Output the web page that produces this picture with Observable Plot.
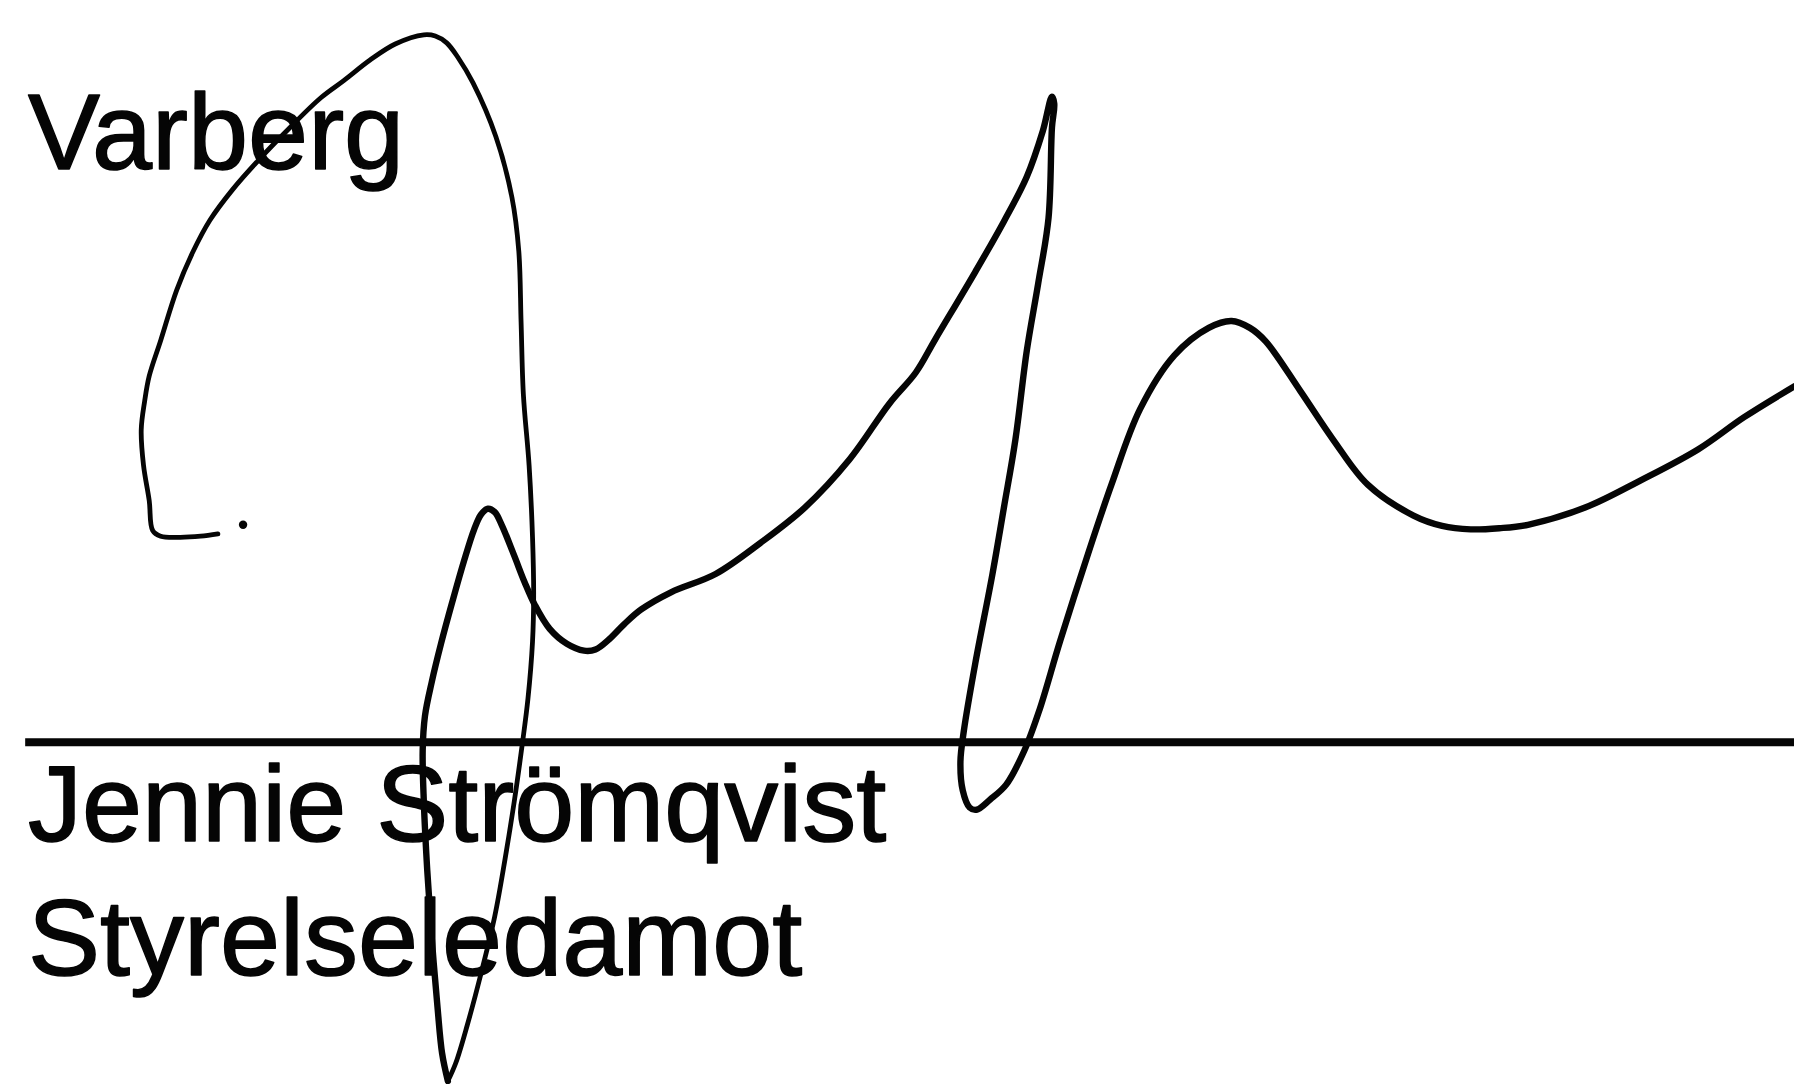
<!DOCTYPE html>
<html><head><meta charset="utf-8">
<script src="https://cdn.jsdelivr.net/npm/d3@7"></script>
<script src="https://cdn.jsdelivr.net/npm/@observablehq/plot@0.6"></script>
<style>html,body{margin:0;padding:0;background:#fff;overflow:hidden}</style>
</head><body><div id="chart"></div>
<script>
// Reference frame (units of the reference picture)
const frameW = 1568, frameH = 947;

// Signature stroke, first part (hook, loop, down to the lowest tip)
const loopX = [190,175,157,140,133,130,125,123,126,130,140,154,168,183,203,225,252,280,300,323,345,370,380,390,400,413,433,447,453,455,457,462,465,
  466,465,461,456,449,441,432,420,408,398,391];
const loopY = [466,468,469,468,463,437,406,375,350,328,297,253,220,192,165,140,112,85,70,52,38,30,31,37,50,72,119,172,219,281,344,406,469,
  520,560,610,650,700,750,800,850,895,928,944];

// Signature stroke, second part (from the lowest tip to the right edge)
const waveX = [391,386,382,377,373,370,369,371,377,385,395,405,414,420,426,432,438,449,458,467,480,495,510,520,532,545,560,586,625,664,703,742,777,800,817,852,877,897,911,919,
  921,919,916,907,897,887,877,867,852,842,839,841,847,853,865,879,895,908,926,951,971,996,1026,1056,1076,1092,1106,1136,1165,1195,1235,1260,1285,1310,1335,1385,1434,1484,1524,1568];
const waveY = [944,920,880,820,760,700,655,625,595,562,525,490,462,449,444,447,458,485,508,528,549,562,568,567,558,545,532,517,501,474,443,401,352,325,296,237,193,154,114,84,
  90,111,190,247,306,384,443,501,579,638,665,690,705,707,698,685,655,620,560,482,423,357,310,286,280,286,298,341,384,423,450,459,462,461,458,443,419,392,364,337];

const dotX = [212], dotY = [458];

// Signature line
const lineY = [648], lineX1 = [22], lineX2 = [1568];

// Printed texts
const labels = ["Varberg", "Jennie Strömqvist", "Styrelseledamot"];
const labelX = [24, 24, 24];
const labelY = [147, 734, 851];

const loop = loopX.map((x, i) => ({x, y: loopY[i]}));
const wave = waveX.map((x, i) => ({x, y: waveY[i]}));
const dots = dotX.map((x, i) => ({x, y: dotY[i]}));
const rules = lineY.map((y, i) => ({y, x1: lineX1[i], x2: lineX2[i]}));
const texts = labels.map((t, i) => ({t, x: labelX[i], y: labelY[i]}));

const ink = "#050505";
const chart = Plot.plot({
  width: 1794, height: 1084,
  margin: 0,
  x: {domain: [0, frameW], axis: null},
  y: {domain: [frameH, 0], axis: null},
  style: {background: "#fff"},
  marks: [
    Plot.ruleY(rules, {y: "y", x1: "x1", x2: "x2", stroke: ink, strokeWidth: 8}),
    Plot.text(texts, {x: "x", y: "y", text: "t", textAnchor: "start", lineAnchor: "bottom",
      fontSize: 108, fontFamily: "Liberation Sans, Arial, sans-serif", fill: ink,
      stroke: ink, strokeWidth: 1.5}),
    Plot.line(loop, {x: "x", y: "y", curve: "catmull-rom", stroke: ink, strokeWidth: 4.8, strokeLinejoin: "round", strokeLinecap: "round"}),
    Plot.line(wave, {x: "x", y: "y", curve: "catmull-rom", stroke: ink, strokeWidth: 6.4, strokeLinejoin: "round", strokeLinecap: "round"}),
    Plot.dot(dots, {x: "x", y: "y", r: 4.2, fill: ink, stroke: null})
  ]
});
document.getElementById("chart").append(chart);
</script>
</body></html>
